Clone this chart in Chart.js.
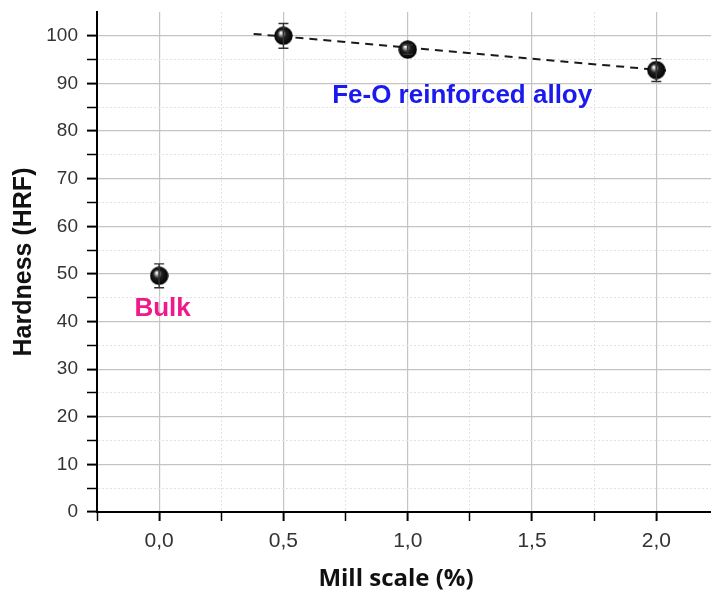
<!DOCTYPE html>
<html>
<head>
<meta charset="utf-8">
<script src="https://cdn.jsdelivr.net/npm/chart.js@4/dist/chart.umd.min.js"></script>
<style>
  html, body { margin: 0; padding: 0; background: #ffffff; overflow: hidden; }
  #wrap { width: 711px; height: 594px; position: relative; }
</style>
</head>
<body>
<div id="wrap"><canvas id="c" width="711" height="594"></canvas></div>
<script>
// ---- data ----
const millScale = [0.0, 0.5, 1.0, 2.0];          // x, %
const hardness = [49.6, 100.0, 97.1, 92.8];      // HRF
const hardnessErr = [2.5, 2.6, 1.0, 2.4];        // +/- HRF
const fitX = [0.38, 2.06];                       // dashed trend line ends
const fitY = [100.4, 92.6];
const xTicks = [-0.25, 0, 0.25, 0.5, 0.75, 1.0, 1.25, 1.5, 1.75, 2.0];
const yTicks = [0, 5, 10, 15, 20, 25, 30, 35, 40, 45, 50, 55, 60, 65, 70, 75, 80, 85, 90, 95, 100];
const annotations = [
  { text: 'Fe-O reinforced alloy', x: 1.219, y: 85.9, color: '#1a1aef' },
  { text: 'Bulk', x: 0.014, y: 41.2, color: '#f0198a' }
];
const xTitle = 'Mill scale (%)';
const yTitle = 'Hardness (HRF)';

// ---- helpers ----
const isMajorX = v => Math.abs(v * 2 - Math.round(v * 2)) < 1e-6;
const isMajorY = v => Math.abs(v / 10 - Math.round(v / 10)) < 1e-6;

// sphere marker image
function makeSphere(d) {
  const c = document.createElement('canvas');
  c.width = d; c.height = d;
  const g = c.getContext('2d');
  const r = d / 2;
  const grad = g.createRadialGradient(r * 0.72, r * 0.68, 0.5, r, r, r);
  grad.addColorStop(0, '#ffffff');
  grad.addColorStop(0.16, '#a0a0a0');
  grad.addColorStop(0.42, '#202020');
  grad.addColorStop(1, '#000000');
  g.fillStyle = grad;
  g.beginPath();
  g.arc(r, r, r - 0.3, 0, Math.PI * 2);
  g.fill();
  return c;
}
const sphere = makeSphere(19);

const errorBars = {
  id: 'errorBars',
  afterDatasetsDraw(chart) {
    const { ctx, scales: { x, y } } = chart;
    ctx.save();
    ctx.strokeStyle = '#333333';
    ctx.lineWidth = 1.4;
    millScale.forEach((xv, i) => {
      const px = x.getPixelForValue(xv);
      const top = y.getPixelForValue(hardness[i] + hardnessErr[i]);
      const bot = y.getPixelForValue(hardness[i] - hardnessErr[i]);
      ctx.beginPath();
      ctx.moveTo(px, top); ctx.lineTo(px, bot);
      ctx.moveTo(px - 5, top); ctx.lineTo(px + 5, top);
      ctx.moveTo(px - 5, bot); ctx.lineTo(px + 5, bot);
      ctx.stroke();
    });
    ctx.restore();
  }
};

const texts = {
  id: 'texts',
  afterDraw(chart) {
    const { ctx, scales: { x, y } } = chart;
    ctx.save();
    ctx.textAlign = 'center';
    ctx.textBaseline = 'alphabetic';
    ctx.font = 'bold 26px "Liberation Sans", Arial, sans-serif';
    annotations.forEach(a => {
      ctx.fillStyle = a.color;
      ctx.fillText(a.text, x.getPixelForValue(a.x), y.getPixelForValue(a.y));
    });
    ctx.fillStyle = '#111111';
    ctx.font = 'bold 24px "Open Sans", sans-serif';
    ctx.fillText(xTitle, 396, 586);
    ctx.restore();
  }
};

new Chart(document.getElementById('c'), {
  type: 'scatter',
  data: {
    datasets: [
      {
        label: 'Hardness',
        data: millScale.map((v, i) => ({ x: v, y: hardness[i] })),
        pointStyle: sphere,
        pointRadius: 9,
        showLine: false,
        order: 1
      },
      {
        label: 'Trend',
        type: 'line',
        data: fitX.map((v, i) => ({ x: v, y: fitY[i] })),
        borderColor: '#1a1a1a',
        borderWidth: 2,
        borderDash: [8, 6],
        pointRadius: 0,
        fill: false,
        order: 2
      }
    ]
  },
  plugins: [errorBars, texts],
  options: {
    responsive: false,
    animation: false,
    devicePixelRatio: 1,
    layout: { autoPadding: false, padding: { left: 0, top: 12, right: 0, bottom: 0 } },
    plugins: { legend: { display: false }, tooltip: { enabled: false } },
    scales: {
      x: {
        type: 'linear',
        min: -0.25,
        max: 2.22,
        afterBuildTicks: s => { s.ticks = xTicks.map(v => ({ value: v })); },
        afterFit: s => { s.height = 82; s.paddingLeft = 0; s.paddingRight = 0; },
        ticks: {
          autoSkip: false,
          maxRotation: 0,
          padding: 8,
          color: '#333333',
          font: { family: '"Liberation Sans", Arial, sans-serif', size: 21 },
          callback: v => isMajorX(v) && v >= 0 ? v.toFixed(1).replace('.', ',') : ''
        },
        grid: {
          color: c => c.tick && isMajorX(c.tick.value) ? '#c4c4c4' : '#e2e2e2',
          lineWidth: c => c.tick && isMajorX(c.tick.value) ? 1.2 : 1,
          tickColor: '#000000',
          tickWidth: c => c.tick && isMajorX(c.tick.value) ? 2 : 1.5,
          tickLength: 9
        },
        border: {
          color: '#000000',
          width: 2,
          dash: c => (c.tick && !isMajorX(c.tick.value)) ? [2, 2] : []
        },
        title: { display: false }
      },
      y: {
        type: 'linear',
        min: 0,
        max: 105,
        afterBuildTicks: s => { s.ticks = yTicks.map(v => ({ value: v })); },
        afterFit: s => { s.width = 97; s.paddingTop = 0; s.paddingBottom = 0; },
        ticks: {
          autoSkip: false,
          padding: 9,
          color: '#333333',
          font: { family: '"Liberation Sans", Arial, sans-serif', size: 19 },
          callback: v => isMajorY(v) ? String(v) : ''
        },
        grid: {
          color: c => c.tick && isMajorY(c.tick.value) ? '#c4c4c4' : '#e2e2e2',
          lineWidth: c => c.tick && isMajorY(c.tick.value) ? 1.2 : 1,
          tickColor: '#000000',
          tickWidth: c => c.tick && isMajorY(c.tick.value) ? 2 : 1.5,
          tickLength: 10
        },
        border: {
          color: '#000000',
          width: 2,
          dash: c => (c.tick && !isMajorY(c.tick.value)) ? [2, 2] : []
        },
        title: {
          display: true,
          text: yTitle,
          color: '#111111',
          font: { family: '"Liberation Sans", Arial, sans-serif', size: 25, weight: 'bold' },
          padding: { top: 9, bottom: 0 }
        }
      }
    }
  }
});
</script>
</body>
</html>
